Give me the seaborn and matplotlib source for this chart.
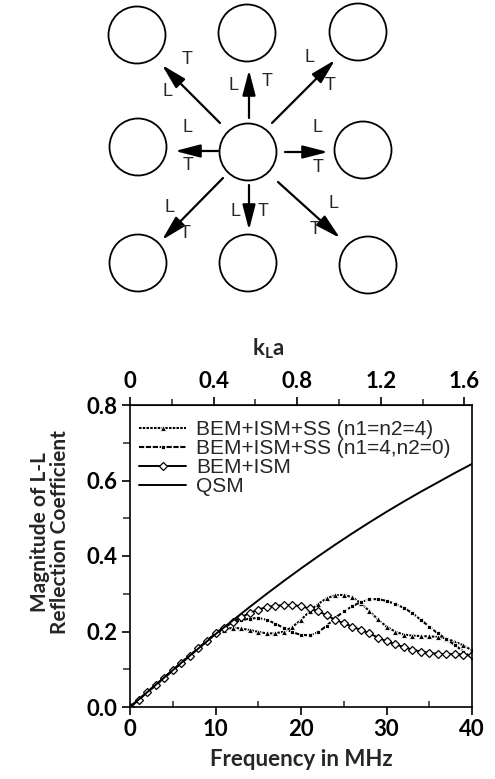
import numpy as np
import pandas as pd
import matplotlib
matplotlib.use("Agg")
import matplotlib.pyplot as plt
import seaborn as sns
from matplotlib.patches import Circle
from matplotlib.ticker import MultipleLocator, FixedLocator

# ---------------- data ----------------
freq = list(range(0, 41))  # MHz
low = [0.0, 0.019, 0.039, 0.058, 0.078, 0.097, 0.117, 0.136, 0.156, 0.175]
ss44 = low + [0.195, 0.205, 0.210, 0.208, 0.204, 0.199, 0.195, 0.195, 0.200, 0.212,
              0.231, 0.253, 0.273, 0.288, 0.296, 0.297, 0.291, 0.275, 0.254, 0.232,
              0.213, 0.200, 0.192, 0.189, 0.188, 0.187, 0.186, 0.181, 0.173, 0.163, 0.150]
ss40 = low + [0.195, 0.212, 0.222, 0.230, 0.234, 0.236, 0.231, 0.221, 0.209, 0.198,
              0.191, 0.190, 0.198, 0.215, 0.236, 0.253, 0.267, 0.278, 0.285, 0.286,
              0.281, 0.273, 0.263, 0.249, 0.231, 0.213, 0.195, 0.180, 0.164, 0.147, 0.130]
bem = low + [0.195, 0.210, 0.225, 0.238, 0.249, 0.258, 0.265, 0.268, 0.270, 0.270,
             0.267, 0.261, 0.254, 0.243, 0.231, 0.222, 0.213, 0.204, 0.195, 0.184,
             0.174, 0.166, 0.159, 0.152, 0.147, 0.143, 0.141, 0.140, 0.140, 0.139, 0.137]
qsm_freq = list(range(0, 41, 2))
qsm = [0.0, 0.039, 0.078, 0.117, 0.155, 0.193, 0.229, 0.265, 0.300, 0.334, 0.367,
       0.399, 0.430, 0.460, 0.489, 0.517, 0.544, 0.570, 0.595, 0.620, 0.644]

labels = ["BEM+ISM+SS (n1=n2=4)", "BEM+ISM+SS (n1=4,n2=0)", "BEM+ISM", "QSM"]
yticks = [0.0, 0.2, 0.4, 0.6, 0.8]
xticks = [0, 10, 20, 30, 40]
kticks = [0, 0.4, 0.8, 1.2, 1.6]
ka_per_mhz = 0.0409

sns.set_style("ticks")
plt.rcParams["font.family"] = ["Lato", "DejaVu Sans"]

fig = plt.figure(figsize=(4.95, 7.79), dpi=100)

# ---------------- diagram ----------------
axd = fig.add_axes([0, 1 - 300 / 779, 1, 300 / 779])
axd.set_xlim(0, 495)
axd.set_ylim(300, 0)
axd.axis("off")
centers = [(137, 35), (247, 33), (358, 32), (138, 147), (248, 152), (363, 150),
           (138, 263), (248, 263), (368, 265)]
for (cx, cy) in centers:
    axd.add_patch(Circle((cx, cy), 28.5, fill=False, ec="black", lw=1.3))
arrows = [((220, 123), (162, 65)), ((249, 118), (249, 70)), ((272, 123), (335, 60)),
          ((218, 151), (175, 151)), ((285, 152), (328, 152)),
          ((223, 178), (162, 240)), ((249, 185), (249, 230)), ((278, 182), (340, 238))]
for (s, t) in arrows:
    axd.annotate("", xy=t, xytext=s,
                 arrowprops=dict(arrowstyle="-|>,head_length=0.85,head_width=0.22",
                                 mutation_scale=18, lw=1.6, color="black",
                                 shrinkA=0, shrinkB=0))
lt = [("T", 187, 60), ("L", 168, 92), ("L", 233, 85), ("T", 267, 82),
      ("L", 310, 58), ("T", 330, 85), ("L", 188, 128), ("T", 188, 165),
      ("L", 318, 128), ("T", 318, 168), ("L", 170, 208), ("T", 185, 233),
      ("L", 235, 212), ("T", 263, 212), ("L", 333, 203), ("T", 315, 230)]
for (s, x, y) in lt:
    axd.text(x, y, s, ha="center", va="center", fontsize=13,
             family=["Liberation Sans", "DejaVu Sans"])

# ---------------- chart ----------------
ax = fig.add_axes([130 / 495, 1 - 707 / 779, 342 / 495, 302 / 779])
d44 = pd.DataFrame({"f": freq, "v": ss44})
d40 = pd.DataFrame({"f": freq, "v": ss40})
dbe = pd.DataFrame({"f": freq, "v": bem})
dqs = pd.DataFrame({"f": qsm_freq, "v": qsm})

sns.lineplot(data=d44, x="f", y="v", ax=ax, color="black", lw=1.5,
             linestyle=(0, (1.2, 0.6)), marker="^", markersize=3.8,
             markeredgewidth=0.6, markerfacecolor="black", label=labels[0])
sns.lineplot(data=d40, x="f", y="v", ax=ax, color="black", lw=1.5,
             linestyle=(0, (2.5, 0.8)), marker="s", markersize=3.2,
             markeredgewidth=0.6, markerfacecolor="black", label=labels[1])
sns.lineplot(data=dbe, x="f", y="v", ax=ax, color="black", lw=1.4,
             linestyle="-", marker="D", markersize=3.8, markeredgewidth=0.9,
             markerfacecolor="white", markeredgecolor="black", label=labels[2])
sns.lineplot(data=dqs, x="f", y="v", ax=ax, color="black", lw=1.4,
             linestyle="-", label=labels[3])

ax.set_xlim(0, 40)
ax.set_ylim(0, 0.8)
ax.set_xticks(xticks)
ax.set_yticks(yticks)
ax.set_yticklabels([f"{t:.1f}" for t in yticks])
ax.xaxis.set_minor_locator(MultipleLocator(5))
ax.yaxis.set_minor_locator(MultipleLocator(0.1))
for sp in ax.spines.values():
    sp.set_visible(True)
    sp.set_linewidth(1.2)
    sp.set_color("black")
ax.tick_params(axis="x", which="major", direction="out", length=6, width=1.2,
               labelsize=16, pad=3, colors="black")
ax.tick_params(axis="x", which="minor", direction="in", length=4, width=1.1)
ax.tick_params(axis="y", which="major", direction="out", length=6, width=1.2,
               labelsize=16, pad=3, colors="black")
ax.tick_params(axis="y", which="minor", direction="out", length=5, width=1.1)
ax.tick_params(right=False, which="both")
for lab in ax.get_xticklabels() + ax.get_yticklabels():
    lab.set_fontweight("bold")

ax.set_xlabel("Frequency in MHz", fontsize=16, fontweight="bold", labelpad=6)
ax.set_ylabel("Magnitude of L-L\nReflection Coefficient", fontsize=15,
              fontweight="bold", linespacing=1.0)
ax.yaxis.set_label_coords(-0.175, 0.58)

sec = ax.secondary_xaxis("top", functions=(lambda f: f * ka_per_mhz,
                                           lambda k: k / ka_per_mhz))
sec.set_xticks(kticks)
sec.set_xticklabels(["0", "0.4", "0.8", "1.2", "1.6"])
sec.xaxis.set_minor_locator(FixedLocator([0.2, 0.6, 1.0, 1.4]))
sec.tick_params(axis="x", which="major", direction="out", length=6, width=1.2,
                labelsize=16, pad=3, colors="black")
sec.tick_params(axis="x", which="minor", direction="out", length=4, width=1.1)
for lab in sec.get_xticklabels():
    lab.set_fontweight("bold")
sec.set_xlabel("k$_\\mathregular{L}$a", fontsize=16, fontweight="bold")
sec.xaxis.set_label_coords(0.405, 1.165, transform=ax.transAxes)

leg = ax.legend(loc="upper left", bbox_to_anchor=(0.025, 0.95), frameon=False,
                prop={"family": "Liberation Sans", "size": 15},
                handlelength=2.3, handletextpad=0.45, labelspacing=0.0,
                borderpad=0, borderaxespad=0)

fig.savefig("out.png", dpi=100)
